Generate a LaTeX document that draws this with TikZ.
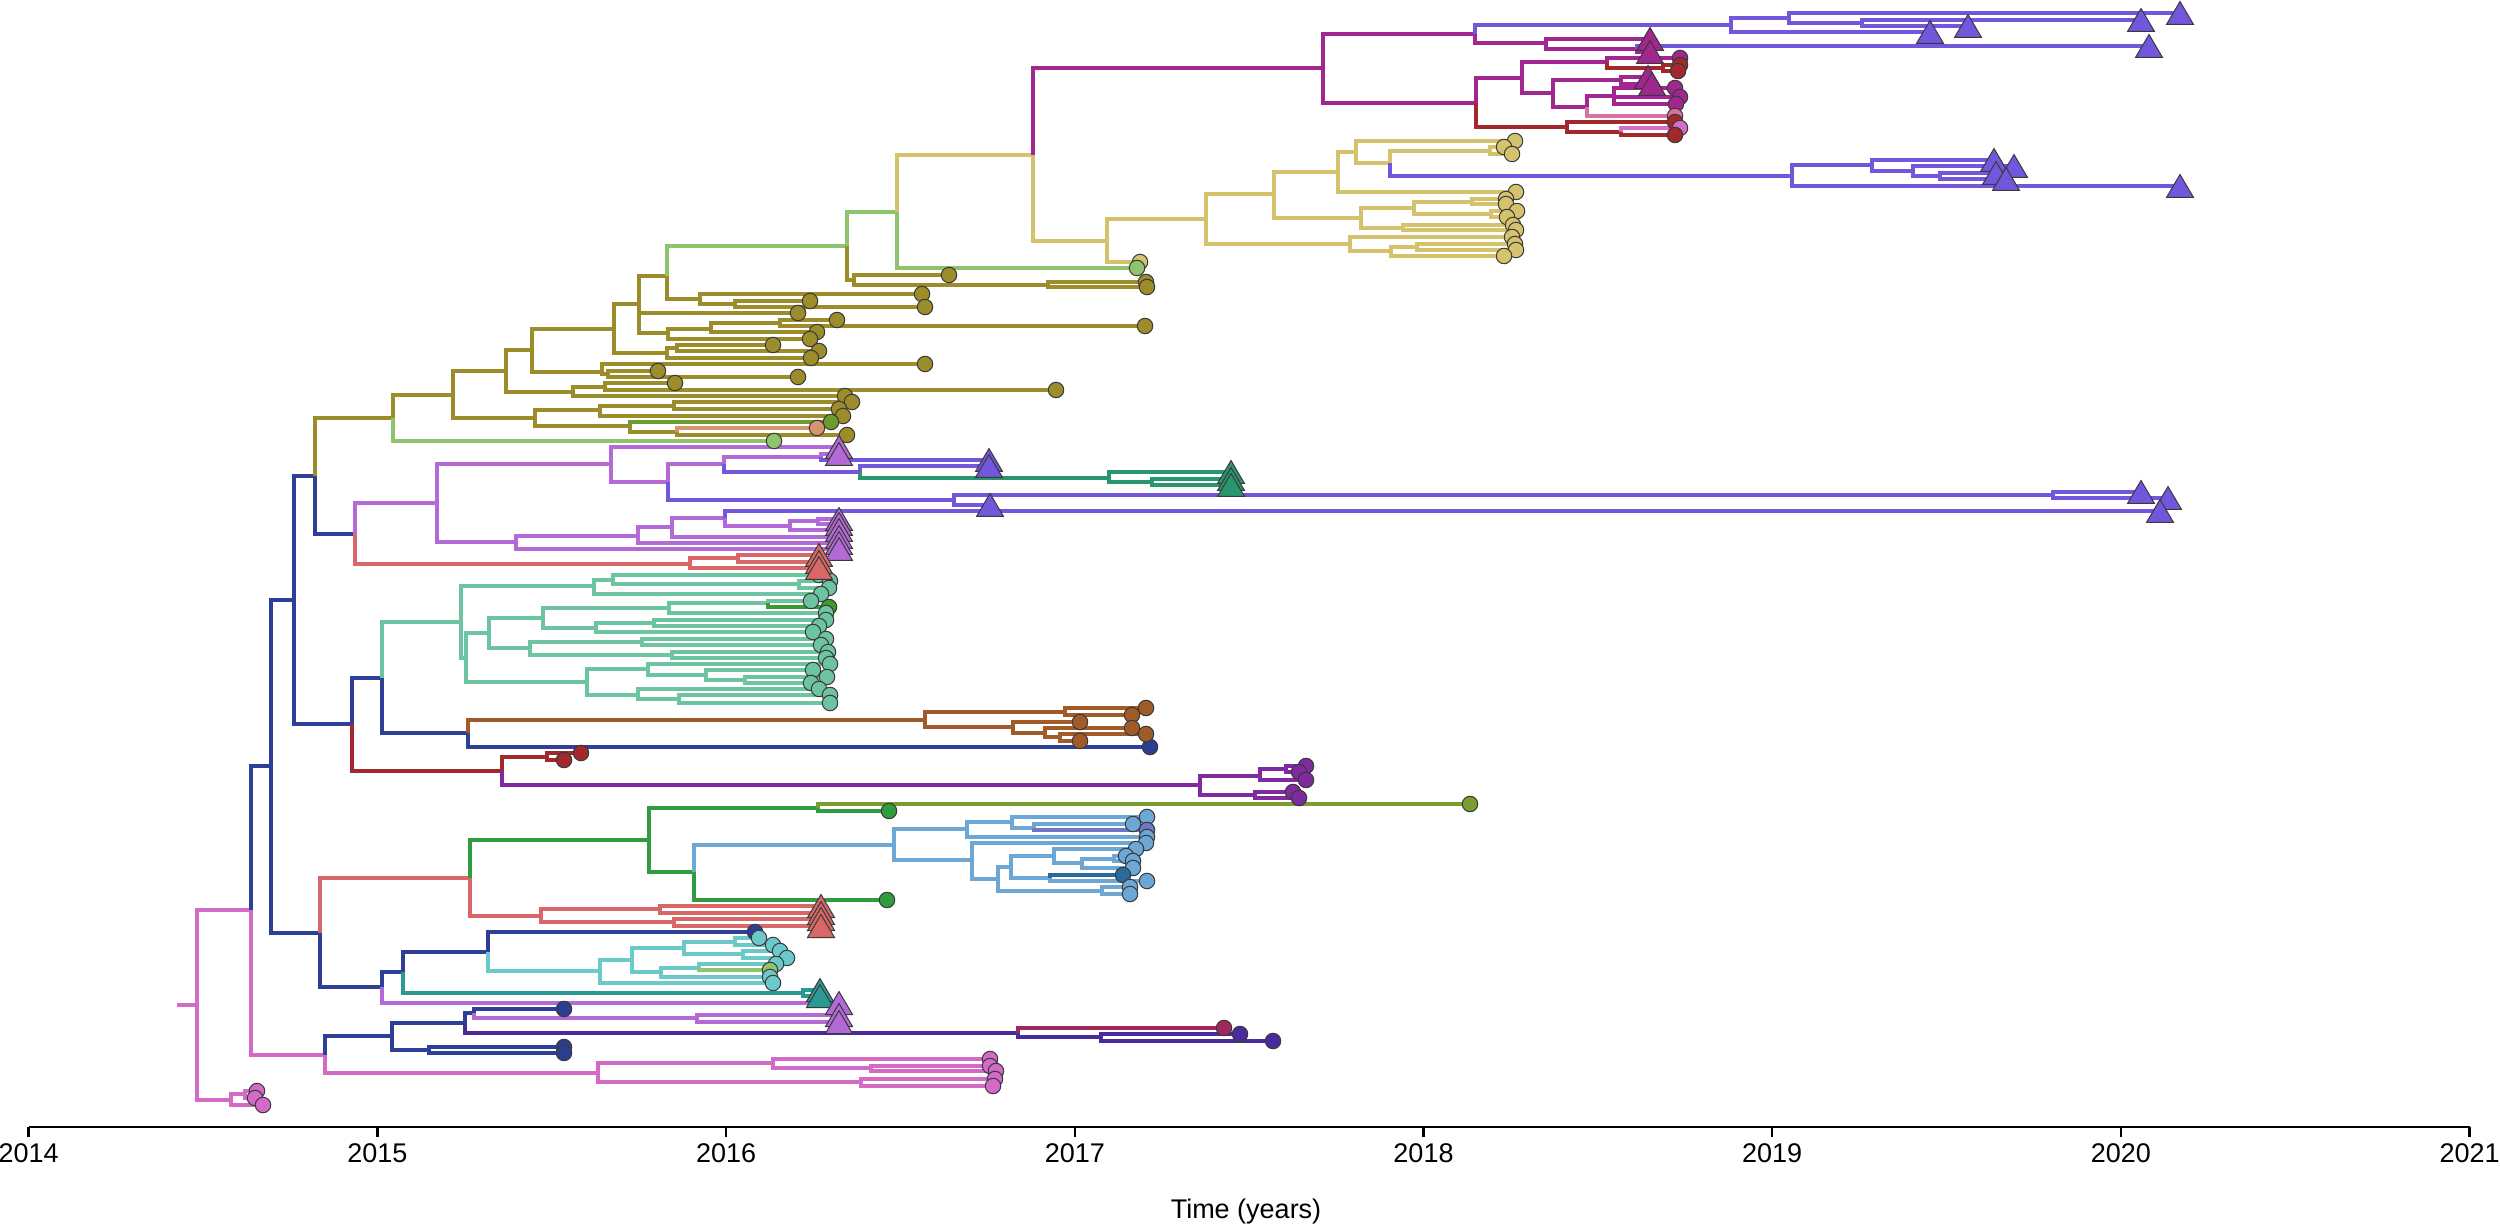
\documentclass[tikz,border=0pt]{standalone}
\usepackage{fontspec}
\setmainfont{Liberation Sans}
\definecolor{cBl}{HTML}{2E3F98}
\definecolor{cPk}{HTML}{D26AC6}
\definecolor{cOl}{HTML}{9C8C2A}
\definecolor{cLg}{HTML}{8DC46C}
\definecolor{cKh}{HTML}{D4C26C}
\definecolor{cMg}{HTML}{A2268F}
\definecolor{cVi}{HTML}{7256DC}
\definecolor{cLp}{HTML}{B46AD6}
\definecolor{cSa}{HTML}{D96767}
\definecolor{cMi}{HTML}{6DC4A1}
\definecolor{cBr}{HTML}{A05B29}
\definecolor{cDr}{HTML}{A3282B}
\definecolor{cPu}{HTML}{7F2A9F}
\definecolor{cGr}{HTML}{2E9C3F}
\definecolor{cLb}{HTML}{6CA7D6}
\definecolor{cCy}{HTML}{6CC9C9}
\definecolor{cTe}{HTML}{2B9A97}
\definecolor{cDg}{HTML}{2A9670}
\definecolor{cOg}{HTML}{7B9C30}
\definecolor{cIn}{HTML}{4A2B9C}
\definecolor{cCr}{HTML}{A2285B}
\definecolor{cLpk}{HTML}{D8739F}
\definecolor{cTan}{HTML}{D4946C}
\definecolor{cOlg}{HTML}{6E9A2E}
\definecolor{cSl}{HTML}{6C79C2}
\definecolor{cDb}{HTML}{2B3E92}
\definecolor{cDsb}{HTML}{2A6A9B}
\definecolor{cGrb}{HTML}{3B9B2F}
\definecolor{cOr}{HTML}{D46FC9}
\definecolor{cEdge}{HTML}{3A3A3A}
\newcommand\brn[5]{\draw[branch,color=#1] (#2,#3) -- (#2,#4) -- (#5,#4);}
\newcommand\tipC[3]{\filldraw[tipmark,fill=#1] (#2,#3) circle[radius=3.1pt];}
\newcommand\tipT[3]{\filldraw[tipmark,fill=#1,shift={(#2,#3)}] (-13.5,11.5) -- (0,-11.5) -- (13.5,11.5) -- cycle;}
\begin{document}
\begin{tikzpicture}[x=0.4pt,y=-0.4pt,
  branch/.style={line width=1.3pt,line join=miter},
  tipmark/.style={draw=cEdge,line width=0.4pt},
  axisline/.style={line width=1pt,black},
  lbl/.style={font=\fontsize{10.8pt}{12pt}\selectfont,inner sep=0pt}]
\useasboundingbox (0,0) rectangle (2500,1230);
% ---------------- root and bottom
\draw[branch,color=cPk] (177,1005) -- (197,1005);
\brn{cPk}{197}{1005}{910}{251}
\brn{cPk}{197}{1005}{1100}{231}
\brn{cPk}{231}{1100}{1094}{245}
\brn{cPk}{245}{1094}{1091}{257}
\brn{cPk}{245}{1094}{1098}{255}
\brn{cPk}{231}{1100}{1105}{263}
\brn{cBl}{251}{910}{766}{271}
\brn{cPk}{251}{910}{1055}{325}
\brn{cBl}{325}{1055}{1036}{392}
\brn{cPk}{325}{1055}{1073}{598}
\brn{cBl}{392}{1036}{1023}{465}
\brn{cBl}{392}{1036}{1050}{429}
\brn{cBl}{429}{1050}{1047}{564}
\brn{cBl}{429}{1050}{1053}{564}
\brn{cBl}{465}{1023}{1013}{474}
\brn{cIn}{465}{1023}{1033}{1018}
\brn{cBl}{474}{1013}{1009}{564}
\brn{cLp}{474}{1013}{1018}{697}
\brn{cLp}{697}{1018}{1015}{839}
\brn{cLp}{697}{1018}{1022}{839}
\brn{cCr}{1018}{1033}{1028}{1224}
\brn{cIn}{1018}{1033}{1037}{1101}
\brn{cIn}{1101}{1037}{1034}{1240}
\brn{cIn}{1101}{1037}{1041}{1273}
\brn{cPk}{598}{1073}{1063}{773}
\brn{cPk}{598}{1073}{1082}{861}
\brn{cPk}{773}{1063}{1059}{990}
\brn{cPk}{773}{1063}{1068}{871}
\brn{cPk}{871}{1068}{1066}{990}
\brn{cPk}{871}{1068}{1071}{996}
\brn{cPk}{861}{1082}{1079}{995}
\brn{cPk}{861}{1082}{1086}{993}
% ---------------- node B
\brn{cBl}{271}{766}{600}{294}
\brn{cBl}{271}{766}{933}{320}
\brn{cSa}{320}{933}{878}{470}
\brn{cBl}{320}{933}{987}{382}
\brn{cGr}{470}{878}{840}{649}
\brn{cSa}{470}{878}{916}{541}
\brn{cGr}{649}{840}{808}{818}
\brn{cGr}{649}{840}{872}{694}
\brn{cOg}{818}{808}{804}{1470}
\brn{cGr}{818}{808}{811}{889}
\brn{cLb}{694}{872}{845}{894}
\brn{cGr}{694}{872}{900}{887}
\brn{cSa}{541}{916}{909}{660}
\brn{cSa}{541}{916}{922}{674}
\brn{cSa}{660}{909}{906}{821}
\brn{cSa}{660}{909}{913}{821}
\brn{cSa}{674}{922}{919}{821}
\brn{cSa}{674}{922}{926}{821}
\brn{cLb}{894}{845}{829}{967}
\brn{cLb}{894}{845}{860}{972}
\brn{cLb}{967}{829}{822}{1012}
\brn{cLb}{967}{829}{837}{1147}
\brn{cLb}{1012}{822}{817}{1147}
\brn{cLb}{1012}{822}{828}{1034}
\brn{cLb}{1034}{828}{824}{1133}
\brn{cSl}{1034}{828}{830}{1147}
\brn{cLb}{972}{860}{843}{1146}
\brn{cLb}{972}{860}{879}{998}
\brn{cLb}{998}{879}{867}{1011}
\brn{cLb}{998}{879}{891}{1102}
\brn{cLb}{1011}{867}{856}{1054}
\brn{cLb}{1011}{867}{878}{1050}
\brn{cLb}{1054}{856}{849}{1136}
\brn{cLb}{1054}{856}{863}{1082}
\brn{cLb}{1082}{863}{859}{1114}
\brn{cLb}{1082}{863}{868}{1133}
\brn{cLb}{1114}{859}{856}{1126}
\brn{cLb}{1114}{859}{861}{1133}
\brn{cDsb}{1050}{878}{875}{1123}
\brn{cLb}{1050}{878}{881}{1147}
\brn{cLb}{1102}{891}{887}{1130}
\brn{cLb}{1102}{891}{894}{1130}
\brn{cBl}{382}{987}{972}{403}
\brn{cLp}{382}{987}{1003}{839}
\brn{cBl}{403}{972}{952}{488}
\brn{cTe}{403}{972}{993}{803}
\brn{cTe}{803}{993}{990}{820}
\brn{cTe}{803}{993}{996}{820}
\brn{cBl}{488}{952}{932}{755}
\brn{cCy}{488}{952}{971}{600}
\brn{cCy}{600}{971}{960}{632}
\brn{cCy}{600}{971}{983}{773}
\brn{cCy}{632}{960}{948}{684}
\brn{cCy}{632}{960}{972}{661}
\brn{cCy}{684}{948}{942}{735}
\brn{cCy}{684}{948}{954}{743}
\brn{cCy}{735}{942}{938}{759}
\brn{cCy}{735}{942}{945}{773}
\brn{cCy}{743}{954}{951}{780}
\brn{cCy}{743}{954}{958}{787}
\brn{cCy}{661}{972}{968}{699}
\brn{cCy}{661}{972}{977}{770}
\brn{cCy}{699}{968}{964}{776}
\brn{cLg}{699}{968}{970}{770}
% ---------------- node C
\brn{cBl}{294}{600}{476}{315}
\brn{cBl}{294}{600}{724}{352}
\brn{cBl}{352}{724}{678}{382}
\brn{cDr}{352}{724}{771}{502}
\brn{cMi}{382}{678}{622}{461}
\brn{cBl}{382}{678}{733}{468}
\brn{cBr}{468}{733}{720}{925}
\brn{cBl}{468}{733}{747}{1150}
\brn{cBr}{925}{720}{712}{1065}
\brn{cBr}{925}{720}{727}{1013}
\brn{cBr}{1065}{712}{708}{1146}
\brn{cBr}{1065}{712}{715}{1132}
\brn{cBr}{1013}{727}{722}{1080}
\brn{cBr}{1013}{727}{733}{1045}
\brn{cBr}{1045}{733}{728}{1132}
\brn{cBr}{1045}{733}{737}{1060}
\brn{cBr}{1060}{737}{734}{1146}
\brn{cBr}{1060}{737}{741}{1080}
\brn{cDr}{502}{771}{757}{547}
\brn{cPu}{502}{771}{785}{1200}
\brn{cDr}{547}{757}{753}{581}
\brn{cDr}{547}{757}{760}{564}
\brn{cPu}{1200}{785}{776}{1260}
\brn{cPu}{1200}{785}{795}{1255}
\brn{cPu}{1260}{776}{769}{1286}
\brn{cPu}{1260}{776}{780}{1306}
\brn{cPu}{1286}{769}{766}{1306}
\brn{cPu}{1286}{769}{772}{1299}
\brn{cPu}{1255}{795}{792}{1293}
\brn{cPu}{1255}{795}{798}{1299}
\brn{cMi}{461}{622}{586}{594}
\brn{cMi}{461}{622}{658}{466}
\brn{cMi}{594}{586}{580}{613}
\brn{cMi}{594}{586}{594}{821}
\brn{cMi}{613}{580}{575}{819}
\brn{cMi}{613}{580}{584}{799}
\brn{cMi}{799}{584}{581}{830}
\brn{cMi}{799}{584}{588}{829}
\brn{cMi}{466}{658}{633}{489}
\brn{cMi}{466}{658}{682}{587}
\brn{cMi}{489}{633}{618}{543}
\brn{cMi}{489}{633}{648}{530}
\brn{cMi}{543}{618}{608}{669}
\brn{cMi}{543}{618}{628}{596}
\brn{cMi}{669}{608}{603}{768}
\brn{cMi}{669}{608}{613}{826}
\brn{cMi}{768}{603}{601}{811}
\brn{cGrb}{768}{603}{607}{829}
\brn{cMi}{596}{628}{623}{654}
\brn{cMi}{596}{628}{632}{813}
\brn{cMi}{654}{623}{620}{826}
\brn{cMi}{654}{623}{626}{819}
\brn{cMi}{530}{648}{642}{642}
\brn{cMi}{530}{648}{655}{672}
\brn{cMi}{642}{642}{639}{826}
\brn{cMi}{642}{642}{645}{821}
\brn{cMi}{672}{655}{652}{828}
\brn{cMi}{672}{655}{658}{826}
\brn{cMi}{587}{682}{669}{648}
\brn{cMi}{587}{682}{695}{638}
\brn{cMi}{648}{669}{664}{830}
\brn{cMi}{648}{669}{675}{706}
\brn{cMi}{706}{675}{670}{813}
\brn{cMi}{706}{675}{680}{745}
\brn{cMi}{745}{680}{677}{827}
\brn{cMi}{745}{680}{683}{811}
\brn{cMi}{638}{695}{689}{819}
\brn{cMi}{638}{695}{699}{679}
\brn{cMi}{679}{699}{695}{830}
\brn{cMi}{679}{699}{703}{830}
% ---------------- node D
\brn{cOl}{315}{476}{418}{393}
\brn{cBl}{315}{476}{534}{355}
\brn{cLp}{355}{534}{503}{437}
\brn{cSa}{355}{534}{564}{690}
\brn{cSa}{690}{564}{558}{738}
\brn{cSa}{690}{564}{568}{819}
\brn{cSa}{738}{558}{555}{819}
\brn{cSa}{738}{558}{562}{819}
\brn{cLp}{437}{503}{464}{611}
\brn{cLp}{437}{503}{542}{516}
\brn{cLp}{611}{464}{447}{839}
\brn{cLp}{611}{464}{482}{668}
\brn{cLp}{668}{482}{464}{724}
\brn{cVi}{668}{482}{500}{954}
\brn{cLp}{724}{464}{457}{821}
\brn{cVi}{724}{464}{472}{860}
\brn{cLp}{821}{457}{454}{839}
\brn{cVi}{821}{457}{460}{989}
\brn{cVi}{860}{472}{466}{989}
\brn{cDg}{860}{472}{478}{1109}
\brn{cDg}{1109}{478}{472}{1231}
\brn{cDg}{1109}{478}{482}{1152}
\brn{cDg}{1152}{482}{479}{1231}
\brn{cDg}{1152}{482}{485}{1231}
\brn{cVi}{954}{500}{495}{2053}
\brn{cVi}{954}{500}{505}{990}
\brn{cVi}{2053}{495}{492}{2141}
\brn{cVi}{2053}{495}{498}{2168}
\brn{cLp}{516}{542}{536}{638}
\brn{cLp}{516}{542}{549}{839}
\brn{cLp}{638}{536}{527}{672}
\brn{cLp}{638}{536}{543}{839}
\brn{cLp}{672}{527}{518}{725}
\brn{cLp}{672}{527}{537}{839}
\brn{cVi}{725}{518}{511}{2160}
\brn{cLp}{725}{518}{526}{790}
\brn{cLp}{790}{526}{521}{818}
\brn{cLp}{790}{526}{530}{839}
\brn{cLp}{818}{521}{519}{839}
\brn{cLp}{818}{521}{524}{839}
% ---------------- olive clade
\brn{cOl}{393}{418}{395}{453}
\brn{cLg}{393}{418}{441}{774}
\brn{cOl}{453}{395}{371}{506}
\brn{cOl}{453}{395}{418}{535}
\brn{cOl}{506}{371}{350}{532}
\brn{cOl}{506}{371}{392}{573}
\brn{cOl}{532}{350}{329}{614}
\brn{cOl}{532}{350}{372}{602}
\brn{cOl}{535}{418}{410}{600}
\brn{cOl}{535}{418}{426}{630}
\brn{cOl}{600}{410}{406}{674}
\brn{cOl}{600}{410}{416}{843}
\brn{cOl}{674}{406}{402}{852}
\brn{cOl}{674}{406}{409}{839}
\brn{cOlg}{630}{426}{422}{831}
\brn{cOl}{630}{426}{432}{677}
\brn{cTan}{677}{432}{428}{817}
\brn{cOl}{677}{432}{435}{847}
\brn{cOl}{573}{392}{387}{605}
\brn{cOl}{573}{392}{396}{845}
\brn{cOl}{605}{387}{383}{675}
\brn{cOl}{605}{387}{390}{1056}
\brn{cOl}{602}{372}{364}{925}
\brn{cOl}{602}{372}{374}{608}
\brn{cOl}{608}{374}{371}{658}
\brn{cOl}{608}{374}{377}{798}
\brn{cOl}{614}{329}{304}{639}
\brn{cOl}{614}{329}{353}{667}
\brn{cOl}{667}{353}{348}{677}
\brn{cOl}{667}{353}{358}{811}
\brn{cOl}{677}{348}{345}{773}
\brn{cOl}{677}{348}{351}{819}
\brn{cOl}{639}{304}{276}{667}
\brn{cOl}{639}{304}{313}{798}
\brn{cOl}{639}{304}{333}{668}
\brn{cLg}{667}{276}{246}{847}
\brn{cOl}{667}{276}{299}{700}
\brn{cOl}{700}{299}{294}{922}
\brn{cOl}{700}{299}{304}{735}
\brn{cOl}{735}{304}{301}{810}
\brn{cOl}{735}{304}{307}{925}
\brn{cOl}{668}{333}{329}{711}
\brn{cOl}{668}{333}{339}{810}
\brn{cOl}{711}{329}{323}{780}
\brn{cOl}{711}{329}{332}{817}
\brn{cOl}{780}{323}{320}{837}
\brn{cOl}{780}{323}{326}{1145}
\brn{cLg}{847}{246}{212}{897}
\brn{cOl}{847}{246}{280}{854}
\brn{cOl}{854}{280}{275}{949}
\brn{cOl}{854}{280}{285}{1048}
\brn{cOl}{1048}{285}{282}{1146}
\brn{cOl}{1048}{285}{287}{1147}
\brn{cKh}{897}{212}{155}{1033}
\brn{cLg}{897}{212}{268}{1137}
% ---------------- khaki clade
\brn{cMg}{1033}{155}{68}{1323}
\brn{cKh}{1033}{155}{241}{1107}
\brn{cKh}{1107}{241}{219}{1206}
\brn{cKh}{1107}{241}{262}{1140}
\brn{cKh}{1206}{219}{194}{1274}
\brn{cKh}{1206}{219}{244}{1350}
\brn{cKh}{1274}{194}{172}{1338}
\brn{cKh}{1274}{194}{218}{1361}
\brn{cKh}{1338}{172}{152}{1356}
\brn{cKh}{1338}{172}{192}{1516}
\brn{cKh}{1356}{152}{141}{1515}
\brn{cKh}{1356}{152}{163}{1390}
\brn{cKh}{1390}{163}{151}{1490}
\brn{cVi}{1390}{163}{176}{1792}
\brn{cKh}{1490}{151}{147}{1504}
\brn{cKh}{1490}{151}{154}{1512}
\brn{cKh}{1361}{218}{208}{1414}
\brn{cKh}{1361}{218}{228}{1403}
\brn{cKh}{1414}{208}{202}{1472}
\brn{cKh}{1414}{208}{214}{1491}
\brn{cKh}{1472}{202}{199}{1506}
\brn{cKh}{1472}{202}{204}{1506}
\brn{cKh}{1491}{214}{211}{1517}
\brn{cKh}{1491}{214}{217}{1507}
\brn{cKh}{1403}{228}{225}{1513}
\brn{cKh}{1403}{228}{230}{1516}
\brn{cKh}{1350}{244}{237}{1512}
\brn{cKh}{1350}{244}{251}{1391}
\brn{cKh}{1391}{251}{247}{1417}
\brn{cKh}{1391}{251}{256}{1504}
\brn{cKh}{1417}{247}{244}{1515}
\brn{cKh}{1417}{247}{250}{1516}
\brn{cVi}{1792}{176}{165}{1872}
\brn{cVi}{1792}{176}{186}{2180}
\brn{cVi}{1872}{165}{160}{1994}
\brn{cVi}{1872}{165}{171}{1913}
\brn{cVi}{1913}{171}{166}{2014}
\brn{cVi}{1913}{171}{176}{1940}
\brn{cVi}{1940}{176}{173}{1996}
\brn{cVi}{1940}{176}{179}{2006}
% ---------------- magenta clade
\brn{cMg}{1323}{68}{34}{1475}
\brn{cMg}{1323}{68}{103}{1476}
\brn{cVi}{1475}{34}{25}{1731}
\brn{cMg}{1475}{34}{43}{1546}
\brn{cMg}{1546}{43}{39}{1650}
\brn{cMg}{1546}{43}{49}{1637}
\brn{cVi}{1637}{49}{46}{2149}
\brn{cMg}{1637}{49}{52}{1650}
\brn{cVi}{1731}{25}{18}{1789}
\brn{cVi}{1731}{25}{32}{1930}
\brn{cVi}{1789}{18}{13}{2180}
\brn{cVi}{1789}{18}{23}{1862}
\brn{cVi}{1862}{23}{20}{2141}
\brn{cVi}{1862}{23}{26}{1968}
\brn{cMg}{1476}{103}{78}{1522}
\brn{cDr}{1476}{103}{127}{1567}
\brn{cMg}{1522}{78}{62}{1607}
\brn{cMg}{1522}{78}{93}{1553}
\brn{cMg}{1607}{62}{58}{1680}
\brn{cDr}{1607}{62}{68}{1663}
\brn{cDr}{1663}{68}{65}{1680}
\brn{cDr}{1663}{68}{71}{1678}
\brn{cMg}{1553}{93}{80}{1621}
\brn{cMg}{1553}{93}{107}{1587}
\brn{cMg}{1621}{80}{77}{1648}
\brn{cMg}{1621}{80}{84}{1652}
\brn{cMg}{1587}{107}{96}{1614}
\brn{cLpk}{1587}{107}{116}{1675}
\brn{cMg}{1614}{96}{88}{1675}
\brn{cMg}{1614}{96}{97}{1680}
\brn{cMg}{1614}{96}{104}{1676}
\brn{cDr}{1567}{127}{122}{1675}
\brn{cDr}{1567}{127}{132}{1621}
\brn{cOr}{1621}{132}{128}{1680}
\brn{cDr}{1621}{132}{135}{1675}
% ---------------- tips: circles
\tipC{cPk}{257}{1091}\tipC{cPk}{255}{1098}\tipC{cPk}{263}{1105}
\tipC{cDb}{564}{1009}\tipC{cDb}{564}{1047}\tipC{cDb}{564}{1053}
\tipC{cDb}{755}{932}\tipC{cDb}{1150}{747}
\tipC{cCr}{1224}{1028}\tipC{cIn}{1240}{1034}\tipC{cIn}{1273}{1041}
\tipC{cPk}{990}{1059}\tipC{cPk}{990}{1066}\tipC{cPk}{996}{1071}\tipC{cPk}{995}{1079}\tipC{cPk}{993}{1086}
\tipC{cOg}{1470}{804}
\tipC{cGr}{889}{811}\tipC{cGr}{887}{900}
\tipC{cLb}{1147}{817}\tipC{cLb}{1133}{824}\tipC{cSl}{1147}{830}\tipC{cLb}{1147}{837}
\tipC{cLb}{1146}{843}\tipC{cLb}{1136}{849}\tipC{cLb}{1126}{856}\tipC{cLb}{1133}{861}
\tipC{cLb}{1133}{868}\tipC{cDsb}{1123}{875}\tipC{cLb}{1147}{881}\tipC{cLb}{1130}{887}\tipC{cLb}{1130}{894}
\tipC{cCy}{759}{938}\tipC{cCy}{773}{945}\tipC{cCy}{780}{951}\tipC{cCy}{787}{958}
\tipC{cCy}{776}{964}\tipC{cLg}{770}{970}\tipC{cCy}{770}{977}\tipC{cCy}{773}{983}
\tipC{cBr}{1146}{708}\tipC{cBr}{1132}{715}\tipC{cBr}{1080}{722}\tipC{cBr}{1132}{728}\tipC{cBr}{1146}{734}\tipC{cBr}{1080}{741}
\tipC{cDr}{581}{753}\tipC{cDr}{564}{760}
\tipC{cPu}{1306}{766}\tipC{cPu}{1299}{772}\tipC{cPu}{1306}{780}\tipC{cPu}{1293}{792}\tipC{cPu}{1299}{798}
\tipC{cMi}{819}{575}\tipC{cMi}{830}{581}\tipC{cMi}{829}{588}\tipC{cMi}{821}{594}\tipC{cMi}{811}{601}
\tipC{cGrb}{829}{607}\tipC{cMi}{826}{613}\tipC{cMi}{826}{620}\tipC{cMi}{819}{626}\tipC{cMi}{813}{632}
\tipC{cMi}{826}{639}\tipC{cMi}{821}{645}\tipC{cMi}{828}{652}\tipC{cMi}{826}{658}\tipC{cMi}{830}{664}
\tipC{cMi}{813}{670}\tipC{cMi}{827}{677}\tipC{cMi}{811}{683}\tipC{cMi}{819}{689}\tipC{cMi}{830}{695}\tipC{cMi}{830}{703}
\tipC{cOl}{949}{275}\tipC{cOl}{1146}{282}\tipC{cOl}{1147}{287}\tipC{cOl}{922}{294}\tipC{cOl}{810}{301}
\tipC{cOl}{925}{307}\tipC{cOl}{798}{313}\tipC{cOl}{837}{320}\tipC{cOl}{1145}{326}\tipC{cOl}{817}{332}
\tipC{cOl}{810}{339}\tipC{cOl}{773}{345}\tipC{cOl}{819}{351}\tipC{cOl}{811}{358}\tipC{cOl}{925}{364}
\tipC{cOl}{658}{371}\tipC{cOl}{798}{377}\tipC{cOl}{675}{383}\tipC{cOl}{1056}{390}\tipC{cOl}{845}{396}
\tipC{cOl}{852}{402}\tipC{cOl}{839}{409}\tipC{cOl}{843}{416}\tipC{cOlg}{831}{422}\tipC{cTan}{817}{428}\tipC{cOl}{847}{435}
\tipC{cLg}{774}{441}
\tipC{cKh}{1140}{262}\tipC{cLg}{1137}{268}
\tipC{cKh}{1515}{141}\tipC{cKh}{1504}{147}\tipC{cKh}{1512}{154}\tipC{cKh}{1516}{192}\tipC{cKh}{1506}{199}
\tipC{cKh}{1506}{204}\tipC{cKh}{1517}{211}\tipC{cKh}{1507}{217}\tipC{cKh}{1513}{225}\tipC{cKh}{1516}{230}
\tipC{cKh}{1512}{237}\tipC{cKh}{1515}{244}\tipC{cKh}{1516}{250}\tipC{cKh}{1504}{256}
\tipC{cMg}{1680}{58}\tipC{cDr}{1680}{65}\tipC{cDr}{1678}{71}
\tipC{cMg}{1675}{88}\tipC{cMg}{1680}{97}\tipC{cMg}{1676}{104}\tipC{cLpk}{1675}{116}
\tipC{cDr}{1675}{122}\tipC{cOr}{1680}{128}\tipC{cDr}{1675}{135}
% ---------------- tips: triangles
\tipT{cLp}{839}{447}\tipT{cLp}{839}{454}
\tipT{cLp}{839}{519}\tipT{cLp}{839}{524}\tipT{cLp}{839}{530}\tipT{cLp}{839}{537}\tipT{cLp}{839}{543}\tipT{cLp}{839}{549}
\tipT{cSa}{819}{555}\tipT{cSa}{819}{562}\tipT{cSa}{819}{568}
\tipT{cSa}{821}{906}\tipT{cSa}{821}{913}\tipT{cSa}{821}{919}\tipT{cSa}{821}{926}
\tipT{cTe}{820}{990}\tipT{cTe}{820}{996}
\tipT{cLp}{839}{1003}\tipT{cLp}{839}{1015}\tipT{cLp}{839}{1022}
\tipT{cVi}{989}{460}\tipT{cVi}{989}{466}\tipT{cVi}{990}{505}
\tipT{cDg}{1231}{472}\tipT{cDg}{1231}{479}\tipT{cDg}{1231}{485}
\tipT{cVi}{2141}{492}\tipT{cVi}{2168}{498}\tipT{cVi}{2160}{511}
\tipT{cVi}{1994}{160}\tipT{cVi}{2014}{166}\tipT{cVi}{1996}{173}\tipT{cVi}{2006}{179}\tipT{cVi}{2180}{186}
\tipT{cVi}{2180}{13}\tipT{cVi}{2141}{20}\tipT{cVi}{1968}{26}\tipT{cVi}{1930}{32}\tipT{cVi}{2149}{46}
\tipT{cMg}{1650}{39}\tipT{cMg}{1650}{52}\tipT{cMg}{1648}{77}\tipT{cMg}{1652}{84}
% ---------------- axis
\draw[axisline] (28.7,1127) -- (2469.6,1127);
\foreach \k/\yr in {0/2014,1/2015,2/2016,3/2017,4/2018,5/2019,6/2020,7/2021}{
  \draw[axisline] ({28.7+348.7*\k},1127) -- ({28.7+348.7*\k},1137);
  \node[lbl] (yr\yr) at ({28.7+348.7*\k},1153) {\yr};
}
\node[lbl] (xlabel) at (1246,1212) {Time (years)};
\end{tikzpicture}
\end{document}
